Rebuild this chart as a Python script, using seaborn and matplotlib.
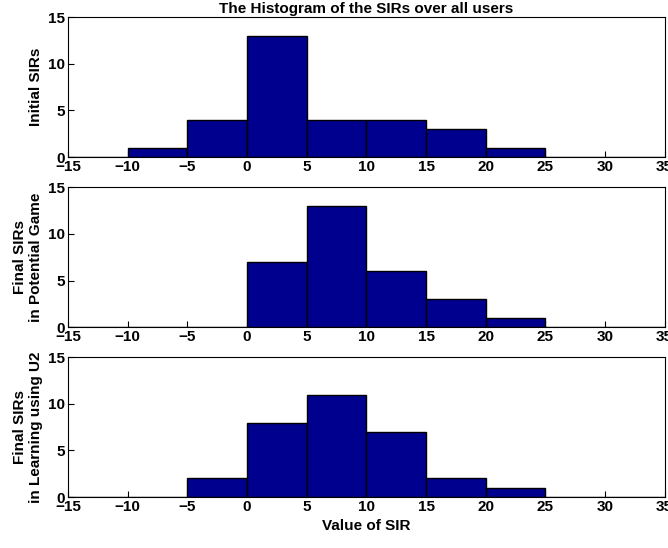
import numpy as np
import matplotlib
matplotlib.use("Agg")
import matplotlib.pyplot as plt
import seaborn as sns

sns.set_style("ticks")
plt.rcParams['font.family'] = ['Liberation Sans', 'DejaVu Sans']
plt.rcParams['font.weight'] = 'bold'
plt.rcParams['text.color'] = 'black'
plt.rcParams['axes.labelcolor'] = 'black'
plt.rcParams['xtick.color'] = 'black'
plt.rcParams['ytick.color'] = 'black'

# bin edges and counts
edges = [-15, -10, -5, 0, 5, 10, 15, 20, 25, 30, 35]
centers = [-12.5, -7.5, -2.5, 2.5, 7.5, 12.5, 17.5, 22.5, 27.5, 32.5]
initial_sir = [0, 1, 4, 13, 4, 4, 3, 1, 0, 0]
potential_sir = [0, 0, 0, 7, 13, 6, 3, 1, 0, 0]
learning_sir = [0, 0, 2, 8, 11, 7, 2, 1, 0, 0]

ylabels = ["Initial SIRs", "Final SIRs\nin Potential Game", "Final SIRs\nin Learning using U2"]
xticks = [-15, -10, -5, 0, 5, 10, 15, 20, 25, 30, 35]

fig = plt.figure(figsize=(6.68, 5.48), dpi=100)
bottoms = [0.7135, 0.403, 0.093]
for i, (counts, lab) in enumerate(zip([initial_sir, potential_sir, learning_sir], ylabels)):
    ax = fig.add_axes([0.102, bottoms[i], 0.893, 0.255])
    sns.histplot(x=centers, weights=counts, bins=edges, ax=ax,
                 color="#00008F", edgecolor="black", linewidth=1, alpha=1)
    ax.set_xlim(-15, 35)
    ax.set_ylim(0, 15)
    ax.set_xticks(xticks)
    ax.set_yticks([0, 5, 10, 15])
    ax.tick_params(direction="in", labelsize=11, length=4, pad=2)
    for t in ax.get_xticklabels() + ax.get_yticklabels():
        t.set_fontweight("bold")
    ax.set_ylabel(lab, fontsize=11, fontweight="bold", labelpad=4)
    ax.set_xlabel("")
    for s in ax.spines.values():
        s.set_visible(True)
        s.set_color("black")
        s.set_linewidth(0.8)
    if i == 0:
        ax.set_title("The Histogram of the SIRs over all users", fontsize=11, fontweight="bold", pad=3)
    if i == 2:
        ax.set_xlabel("Value of SIR", fontsize=11, fontweight="bold")

fig.savefig("out.png", dpi=100)
